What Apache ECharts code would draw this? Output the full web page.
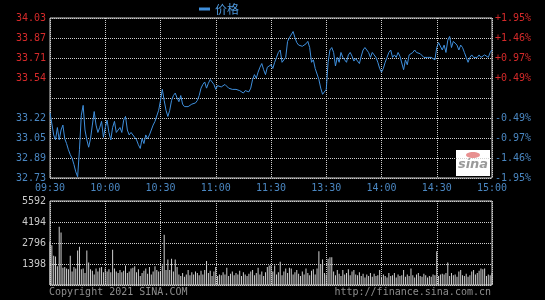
<!DOCTYPE html>
<html><head><meta charset="utf-8">
<script src="https://cdn.jsdelivr.net/npm/echarts@6/dist/echarts.min.js"></script>
<style>html,body{margin:0;padding:0;background:#000;}#c{width:545px;height:300px;}</style>
</head><body><div id="c"></div>
<script>
// tick labels (bottom -> top)
const priceLabels = ['32.73','32.89','33.05','33.22','','33.54','33.71','33.87','34.03'];
const pctLabels = ['-1.95%','-1.46%','-0.97%','-0.49%','','+0.49%','+0.97%','+1.46%','+1.95%'];
const volMax = 5592;
const volStep = 1398;
const priceMin = 32.73;
const priceMax = 34.03;

// minute prices 09:30..11:30, 13:01..15:00
const price = [
33.26,33.27,33.08,33.04,33.14,33.04,33.12,33.16,33.05,33.01,
32.96,32.92,32.89,32.84,32.78,32.74,32.96,33.24,33.32,33.12,
33.04,32.98,33.05,33.16,33.27,33.16,33.10,33.14,33.19,33.06,
33.14,33.20,33.10,33.04,33.14,33.19,33.10,33.12,33.14,33.10,
33.20,33.23,33.12,33.08,33.10,33.11,33.06,33.04,33.00,32.97,
33.05,33.01,33.08,33.05,33.08,33.12,33.16,33.19,33.20,33.28,
33.36,33.45,33.36,33.28,33.23,33.28,33.36,33.40,33.42,33.38,
33.35,33.40,33.33,33.31,33.30,33.31,33.32,33.33,33.33,33.34,
33.36,33.40,33.46,33.49,33.51,33.46,33.50,33.53,33.53,33.49,
33.45,33.48,33.49,33.47,33.48,33.49,33.48,33.46,33.47,33.45,
33.45,33.45,33.45,33.44,33.43,33.42,33.44,33.45,33.43,33.46,
33.53,33.57,33.54,33.59,33.63,33.66,33.61,33.57,33.63,33.62,
33.65,33.62,33.67,33.71,33.75,33.77,33.67,33.69,33.71,33.84,
33.87,33.88,33.92,33.87,33.83,33.81,33.81,33.80,33.81,33.82,
33.84,33.79,33.67,33.69,33.62,33.61,33.53,33.46,33.41,33.40,
33.45,33.67,33.77,33.79,33.75,33.64,33.71,33.67,33.75,33.71,
33.69,33.67,33.73,33.75,33.72,33.68,33.70,33.71,33.66,33.72,
33.77,33.79,33.78,33.75,33.71,33.75,33.73,33.71,33.67,33.62,
33.59,33.62,33.67,33.71,33.75,33.77,33.71,33.73,33.71,33.75,
33.72,33.71,33.61,33.69,33.65,33.73,33.74,33.75,33.77,33.75,
33.75,33.74,33.73,33.71,33.72,33.71,33.71,33.71,33.71,33.69,
33.79,33.83,33.84,33.77,33.81,33.75,33.85,33.88,33.79,33.84,
33.85,33.81,33.77,33.81,33.79,33.75,33.71,33.67,33.71,33.73,
33.71,33.71,33.71,33.73,33.71,33.72,33.73,33.72,33.71,33.75,
33.77
];

const volume = [
2880,2650,1950,1900,1250,3880,3500,1150,1200,1100,
1050,1950,900,1200,1100,2300,2550,1050,1100,800,
2300,1500,1050,950,700,1100,900,1150,1200,850,
1100,900,1050,850,2350,1100,900,800,1000,850,
950,1300,800,900,1100,1150,1250,850,1050,600,
800,950,1100,750,1200,700,900,1250,1000,900,
900,1300,3350,1000,1700,1000,1750,900,1700,1200,
700,600,800,550,700,1000,650,850,700,900,
800,650,950,700,1000,1600,800,950,600,900,
1200,600,700,650,850,700,1150,600,750,900,
650,800,700,950,600,850,700,600,750,900,
1000,650,800,1150,700,900,600,850,1200,1300,
1300,900,1300,700,850,1550,650,900,1100,800,
1150,1100,700,850,1000,750,600,900,700,1100,
800,650,950,1050,700,1100,2250,1400,1700,800,
700,1750,1850,1850,900,650,1000,750,600,1000,
700,800,1050,650,900,1000,700,650,850,600,
750,500,700,600,800,550,750,600,650,1000,
550,700,600,500,800,600,650,800,500,700,
600,650,1000,550,700,600,1100,650,500,700,
800,600,550,750,650,500,600,550,700,650,
2250,600,700,750,700,800,1500,600,800,650,
700,550,900,1000,650,600,750,550,650,900,
1000,700,800,950,1100,1050,1100,600,700,650,
800
];

const times = [];
(function(){
  function fmt(h,m){return (h<10?'0':'')+h+':'+(m<10?'0':'')+m;}
  for (let t = 9*60+30; t <= 11*60+30; t++) times.push(fmt(Math.floor(t/60), t%60));
  for (let t = 13*60+1; t <= 15*60; t++) times.push(fmt(Math.floor(t/60), t%60));
})();

const mono = 'DejaVu Sans Mono';
const gridCol = '#cfcfcf';
const red = '#d42a2a';
const blue = '#4a86c0';
const every30 = (i) => i % 30 === 0;

const chart = echarts.init(document.getElementById('c'), null, {renderer: 'canvas'});
chart.setOption({
  backgroundColor: '#000',
  animation: false,
  legend: {
    data: ['价格'], left: 199, top: 3, padding: 0, icon: 'rect', itemWidth: 11, itemHeight: 3,
    itemGap: 4,
    textStyle: {color: '#4f9be0', fontSize: 12, fontFamily: 'Noto Sans CJK SC'}
  },
  grid: [
    {left: 50, top: 18, width: 442, height: 160, show: true, borderColor: gridCol, borderWidth: 1, backgroundColor: 'transparent'},
    {left: 50, top: 201, width: 442, height: 84, show: true, borderColor: gridCol, borderWidth: 1, backgroundColor: 'transparent'}
  ],
  xAxis: [
    {type: 'category', gridIndex: 0, data: times, boundaryGap: false,
     axisLine: {show: false}, axisTick: {show: false},
     axisLabel: {interval: every30, color: blue, fontFamily: mono, fontSize: 10, margin: 5},
     splitLine: {show: true, interval: every30, lineStyle: {color: gridCol, type: 'dotted', width: 1}}},
    {type: 'category', gridIndex: 1, data: times, boundaryGap: false,
     axisLine: {show: false}, axisTick: {show: false}, axisLabel: {show: false},
     splitLine: {show: true, interval: every30, lineStyle: {color: gridCol, type: 'dotted', width: 1}}}
  ],
  yAxis: [
    {type: 'value', gridIndex: 0, min: priceMin, max: priceMax, show: false, splitLine: {show: false}},
    {type: 'value', gridIndex: 0, position: 'right', min: -4, max: 4, interval: 1,
     axisLine: {show: false}, axisTick: {show: false},
     axisLabel: {margin: 3, fontFamily: mono, fontSize: 10,
       formatter: (v) => pctLabels[Math.round(v) + 4],
       color: (v) => (v > 0 ? red : blue)},
     splitLine: {show: true, lineStyle: {color: gridCol, type: 'dotted', width: 1}}},
    {type: 'value', gridIndex: 0, position: 'left', min: -4, max: 4, interval: 1,
     axisLine: {show: false}, axisTick: {show: false},
     axisLabel: {margin: 4, fontFamily: mono, fontSize: 10,
       formatter: (v) => priceLabels[Math.round(v) + 4],
       color: (v) => (v > 0 ? red : blue)},
     splitLine: {show: false}},
    {type: 'value', gridIndex: 1, min: 0, max: volMax, interval: volStep,
     axisLine: {show: false}, axisTick: {show: false},
     axisLabel: {margin: 4, fontFamily: mono, fontSize: 10, color: '#c8c8c8',
       formatter: (v) => (v === 0 ? '' : String(v))},
     splitLine: {show: true, lineStyle: {color: gridCol, type: 'dotted', width: 1}}}
  ],
  series: [
    {name: '价格', type: 'line', xAxisIndex: 0, yAxisIndex: 0, data: price,
     showSymbol: false, lineStyle: {color: '#3f8fdc', width: 1}, itemStyle: {color: '#3f8fdc'}},
    {name: '成交量', type: 'bar', xAxisIndex: 1, yAxisIndex: 3, data: volume,
     barWidth: 1, itemStyle: {color: '#d0d0d0'}}
  ],
  graphic: [
    {type: 'text', left: 49, top: 287, style: {text: 'Copyright 2021 SINA.COM', fill: '#8c8c8c', font: '10px "DejaVu Sans Mono"'}},
    {type: 'text', right: 54, top: 287, style: {text: 'http://finance.sina.com.cn', fill: '#8c8c8c', font: '10px "DejaVu Sans Mono"'}},
    {type: 'group', left: 456, top: 150, children: [
      {type: 'rect', shape: {x: 0, y: 0, width: 34, height: 26}, style: {fill: '#ffffff'}},
      {type: 'ellipse', shape: {cx: 17, cy: 5, rx: 7, ry: 3}, style: {fill: '#e89090'}},
      {type: 'text', style: {x: 17, y: 15, text: 'sina', fill: '#9a9a9a', font: 'italic bold 13px "DejaVu Sans"', textAlign: 'center', textVerticalAlign: 'middle'}}
    ]}
  ]
});
</script>
</body></html>
